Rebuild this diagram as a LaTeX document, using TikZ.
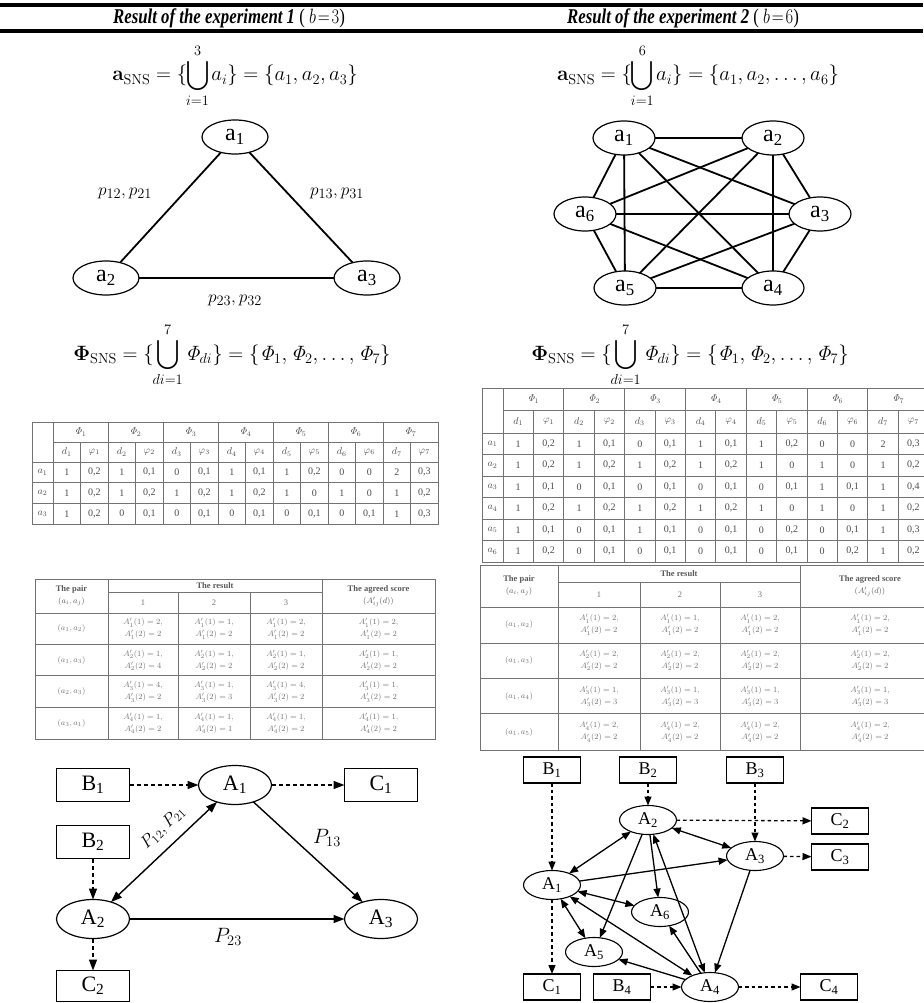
\documentclass[tikz,border=0pt]{standalone}
\usepackage[no-math]{fontspec}
\setmainfont{Liberation Serif}
\usepackage{amsmath}
\usetikzlibrary{arrows.meta,shapes.geometric,calc}
\newcommand{\fs}[1]{\fontsize{#1}{#1}\selectfont}
\newcommand{\ac}[3]{$A'_{#1}(1)=#2,$\\$A'_{#1}(2)=#3$}
\begin{document}
\begin{tikzpicture}[x=1pt,y=-1pt,
  every node/.style={inner sep=0pt,outer sep=0pt},
  topel/.style={draw,ellipse,line width=1.2pt,minimum width=66pt,minimum height=34pt,font=\fs{24}},
  topedge/.style={line width=1.8pt},
  botel/.style={draw,ellipse,line width=1.2pt,minimum width=73pt,minimum height=39pt,font=\fs{22}},
  botbox/.style={draw,rectangle,line width=1.2pt,minimum width=73pt,minimum height=33pt,font=\fs{22}},
  smel/.style={draw,ellipse,line width=1.1pt,minimum width=57pt,minimum height=29pt,font=\fs{18}},
  smbox/.style={draw,rectangle,line width=1.1pt,minimum width=57pt,minimum height=26pt,font=\fs{18}},
  tipA/.tip={Triangle[length=11pt,width=8pt]},
  tipB/.tip={Triangle[length=9pt,width=7pt]},
  solidarr/.style={line width=1.4pt,-tipA},
  dblarr/.style={line width=1.4pt,tipA-tipA},
  dasharr/.style={line width=1.4pt,dash pattern=on 4pt off 3pt,-tipA},
  ssolid/.style={line width=1.3pt,-tipB},
  sdbl/.style={line width=1.3pt,tipB-tipB},
  sdash/.style={line width=1.3pt,dash pattern=on 3.5pt off 3pt,-tipB},
  tabline/.style={draw=black!55,line width=0.9pt},
  tabtxt/.style={text=black!70,font=\fs{10}},
  lowtxt/.style={text=black!55,font=\fontsize{8.5}{12}\selectfont,align=center},
  lowhead/.style={text=black!65,font=\fontsize{8.5}{12}\selectfont\bfseries,align=center},
  header/.style={font=\fs{21}},
  formula/.style={font=\fs{22},anchor=base}
]
\useasboundingbox (0,0) rectangle (923,1003);
\fill[white] (0,0) rectangle (923,1003);
% rules
\draw[line width=4pt] (0,5) -- (923,5);
\draw[line width=3.5pt] (0,31) -- (923,31);
\node[header] (h1) at (229,18.5) {\scalebox{0.8}[1]{\textbf{\textit{Result of the experiment 1}} ( $b\!=\!3$)}};
\node[header] (h2) at (683,18.5) {\scalebox{0.8}[1]{\textbf{\textit{Result of the experiment 2}} ( $b\!=\!6$)}};
% formulas a
\node[formula] (fa1) at (235,81) {$\mathbf{a}_{\mathrm{SNS}}=\{\mkern-1mu\displaystyle\bigcup_{i=1}^{3}\mkern-1mu a_i\}=\left\{a_1,a_2,a_3\right\}$};
\node[formula] (fa2) at (698,81) {$\mathbf{a}_{\mathrm{SNS}}=\{\mkern-1mu\displaystyle\bigcup_{i=1}^{6}\mkern-1mu a_i\}=\left\{a_1,a_2,\ldots,a_6\right\}$};
% top-left triangle
\node[topel] (ta1) at (235,137) {a\textsubscript{1}};
\node[topel] (ta2) at (106,278) {a\textsubscript{2}};
\node[topel] (ta3) at (367,278) {a\textsubscript{3}};
\draw[topedge] (ta1) -- (ta2);
\draw[topedge] (ta1) -- (ta3);
\draw[topedge] (ta2) -- (ta3);
\node[font=\fs{19}] (l12) at (125,193) {$p_{12},p_{21}$};
\node[font=\fs{19}] (l13) at (337,193) {$p_{13},p_{31}$};
\node[font=\fs{19}] (l23) at (235,300) {$p_{23},p_{32}$};
% top-right K6
\node[topel,minimum width=62pt] (b1) at (624,138) {a\textsubscript{1}};
\node[topel,minimum width=62pt] (b2) at (773,138) {a\textsubscript{2}};
\node[topel,minimum width=62pt] (b6) at (585,214) {a\textsubscript{6}};
\node[topel,minimum width=62pt] (b3) at (820,214) {a\textsubscript{3}};
\node[topel,minimum width=62pt] (b5) at (625,288) {a\textsubscript{5}};
\node[topel,minimum width=62pt] (b4) at (773,288) {a\textsubscript{4}};
\foreach \u/\v in {b1/b2,b1/b3,b1/b4,b1/b5,b1/b6,b2/b3,b2/b4,b2/b5,b2/b6,b3/b4,b3/b5,b3/b6,b4/b5,b4/b6,b5/b6}
  \draw[topedge] (\u) -- (\v);
% Phi formulas
\node[formula] (fp1) at (232,360) {$\mathbf{\Phi}_{\mathrm{SNS}}=\{\mkern-1mu\displaystyle\bigcup_{di=1}^{7}\mkern-1mu\mathit{\Phi}_{di}\}=\left\{\mathit{\Phi}_1,\mathit{\Phi}_2,\ldots,\mathit{\Phi}_7\right\}$};
\node[formula] (fp2) at (690,360) {$\mathbf{\Phi}_{\mathrm{SNS}}=\{\mkern-1mu\displaystyle\bigcup_{di=1}^{7}\mkern-1mu\mathit{\Phi}_{di}\}=\left\{\mathit{\Phi}_1,\mathit{\Phi}_2,\ldots,\mathit{\Phi}_7\right\}$};
% ---------- left Phi table
\draw[tabline] (32,422) rectangle (438,524);
\foreach \yy in {462,482.5,503} \draw[tabline] (32,\yy) -- (438,\yy);
\draw[tabline] (53,442) -- (438,442);
\draw[tabline] (53,422) -- (53,524);
\foreach \k in {1,...,6} \draw[tabline] ({53+2*\k*27.5},422) -- ({53+2*\k*27.5},524);
\foreach \k in {0,...,6} \draw[tabline] ({53+(2*\k+1)*27.5},442) -- ({53+(2*\k+1)*27.5},524);
\foreach \k in {1,...,7} {
  \node[tabtxt] (lph\k) at ({53+(2*\k-1)*27.5},432) {$\mathit{\Phi}_{\k}$};
  \node[tabtxt] (lpd\k) at ({53+(2*\k-1.5)*27.5},452) {$d_{\k}$};
  \node[tabtxt] (lpf\k) at ({53+(2*\k-0.5)*27.5},452) {$\varphi_{\k}$};
}
\foreach \rowvals [count=\r] in {
  {1,{0,2},1,{0,1},0,{0,1},1,{0,1},1,{0,2},0,0,2,{0,3}},
  {1,{0,2},1,{0,2},1,{0,2},1,{0,2},1,0,1,0,1,{0,2}},
  {1,{0,2},0,{0,1},0,{0,1},0,{0,1},0,{0,1},0,{0,1},1,{0,3}}} {
  \node[tabtxt] (lra\r) at (42.5,{462+(\r-1)*20.7+10.3}) {$a_{\r}$};
  \foreach \v [count=\c] in \rowvals
    \node[tabtxt] (lc\r-\c) at ({53+(\c-0.5)*27.5},{462+(\r-1)*20.7+10.3}) {\v};
}
% ---------- right Phi table
\def\rw{30.4}
\draw[tabline] (482,388) -- (940,388);
\draw[tabline] (482,562) -- (940,562);
\draw[tabline] (482,388) -- (482,562);
\foreach \r in {0,...,5} \draw[tabline] (482,{433+\r*21.5}) -- (940,{433+\r*21.5});
\draw[tabline] (503,410) -- (940,410);
\draw[tabline] (503,388) -- (503,562);
\foreach \k in {1,...,6} \draw[tabline] ({503+2*\k*\rw},388) -- ({503+2*\k*\rw},562);
\foreach \k in {0,...,6} \draw[tabline] ({503+(2*\k+1)*\rw},410) -- ({503+(2*\k+1)*\rw},562);
\foreach \k in {1,...,7} {
  \node[tabtxt] (rph\k) at ({503+(2*\k-1)*\rw},399) {$\mathit{\Phi}_{\k}$};
  \node[tabtxt] (rpd\k) at ({503+(2*\k-1.5)*\rw},421.5) {$d_{\k}$};
  \node[tabtxt] (rpf\k) at ({503+(2*\k-0.5)*\rw},421.5) {$\varphi_{\k}$};
}
\foreach \rowvals [count=\r] in {
  {1,{0,2},1,{0,1},0,{0,1},1,{0,1},1,{0,2},0,0,2,{0,3}},
  {1,{0,2},1,{0,2},1,{0,2},1,{0,2},1,0,1,0,1,{0,2}},
  {1,{0,1},0,{0,1},0,{0,1},0,{0,1},0,{0,1},1,{0,1},1,{0,4}},
  {1,{0,2},1,{0,2},1,{0,2},1,{0,2},1,0,1,0,1,{0,2}},
  {1,{0,1},0,{0,1},1,{0,1},0,{0,1},0,{0,2},0,{0,1},1,{0,3}},
  {1,{0,2},0,{0,1},0,{0,1},0,{0,1},0,{0,1},0,{0,2},1,{0,2}}} {
  \node[tabtxt] (rra\r) at (492.5,{433+(\r-0.5)*21.5}) {$a_{\r}$};
  \foreach \v [count=\c] in \rowvals
    \node[tabtxt] (rc\r-\c) at ({503+(\c-0.5)*\rw},{433+(\r-0.5)*21.5}) {\v};
}
% ---------- left lower table
\draw[tabline] (35,579) rectangle (435,739);
\draw[tabline] (108,592) -- (322,592);
\foreach \yy in {613,644,675,707} \draw[tabline] (35,\yy) -- (435,\yy);
\draw[tabline] (108,579) -- (108,739);
\draw[tabline] (322,579) -- (322,739);
\draw[tabline] (178,592) -- (178,739);
\draw[tabline] (250,592) -- (250,739);
\node[lowhead] (lp1) at (71.5,596) {The pair\\$(a_i,a_j)$};
\node[lowhead] (lr1) at (215,585.5) {The result};
\node[lowtxt] (ln1) at (143,602.5) {1};
\node[lowtxt] (ln2) at (214,602.5) {2};
\node[lowtxt] (ln3) at (286,602.5) {3};
\node[lowhead] (ls1) at (378.5,596) {The agreed score\\$(A'_{ij}(d))$};
\foreach \lab/\ca/\cb/\cc/\cd [count=\r] in {
  {$(a_1,a_2)$}/{\ac{1}{2}{2}}/{\ac{1}{1}{2}}/{\ac{1}{2}{2}}/{\ac{1}{2}{2}},
  {$(a_1,a_3)$}/{\ac{2}{1}{4}}/{\ac{2}{1}{2}}/{\ac{2}{1}{2}}/{\ac{2}{1}{2}},
  {$(a_2,a_3)$}/{\ac{3}{4}{2}}/{\ac{3}{1}{3}}/{\ac{3}{4}{2}}/{\ac{3}{1}{2}},
  {$(a_3,a_1)$}/{\ac{4}{1}{2}}/{\ac{4}{1}{1}}/{\ac{4}{1}{2}}/{\ac{4}{1}{2}}} {
  \node[lowtxt] (lq\r-0) at (71.5,{613+(\r-0.5)*31.5}) {\lab};
  \node[lowtxt] (lq\r-1) at (143,{613+(\r-0.5)*31.5}) {\ca};
  \node[lowtxt] (lq\r-2) at (214,{613+(\r-0.5)*31.5}) {\cb};
  \node[lowtxt] (lq\r-3) at (286,{613+(\r-0.5)*31.5}) {\cc};
  \node[lowtxt] (lq\r-4) at (378.5,{613+(\r-0.5)*31.5}) {\cd};
}
% ---------- right lower table
\draw[tabline] (480,565) -- (940,565);
\draw[tabline] (480,750) -- (940,750);
\draw[tabline] (480,565) -- (480,750);
\draw[tabline] (558,582) -- (800,582);
\foreach \yy in {607,643,678,713} \draw[tabline] (480,\yy) -- (940,\yy);
\draw[tabline] (558,565) -- (558,750);
\draw[tabline] (800,565) -- (800,750);
\draw[tabline] (640,582) -- (640,750);
\draw[tabline] (720,582) -- (720,750);
\node[lowhead] (rp1) at (519,586) {The pair\\$(a_i,a_j)$};
\node[lowhead] (rr1) at (679,573.5) {The result};
\node[lowtxt] (rn1) at (599,594.5) {1};
\node[lowtxt] (rn2) at (680,594.5) {2};
\node[lowtxt] (rn3) at (760,594.5) {3};
\node[lowhead] (rs1) at (870,586) {The agreed score\\$(A'_{ij}(d))$};
\foreach \lab/\ca/\cb/\cc/\cd [count=\r] in {
  {$(a_1,a_2)$}/{\ac{1}{2}{2}}/{\ac{1}{1}{2}}/{\ac{1}{2}{2}}/{\ac{1}{2}{2}},
  {$(a_1,a_3)$}/{\ac{2}{2}{2}}/{\ac{2}{2}{2}}/{\ac{2}{2}{2}}/{\ac{2}{2}{2}},
  {$(a_1,a_4)$}/{\ac{3}{1}{3}}/{\ac{3}{1}{3}}/{\ac{3}{1}{3}}/{\ac{3}{1}{3}},
  {$(a_1,a_5)$}/{\ac{4}{2}{2}}/{\ac{4}{2}{2}}/{\ac{4}{2}{2}}/{\ac{4}{2}{2}}} {
  \node[lowtxt] (rq\r-0) at (519,{607+(\r-0.5)*35.75}) {\lab};
  \node[lowtxt] (rq\r-1) at (599,{607+(\r-0.5)*35.75}) {\ca};
  \node[lowtxt] (rq\r-2) at (680,{607+(\r-0.5)*35.75}) {\cb};
  \node[lowtxt] (rq\r-3) at (760,{607+(\r-0.5)*35.75}) {\cc};
  \node[lowtxt] (rq\r-4) at (870,{607+(\r-0.5)*35.75}) {\cd};
}
% ---------- bottom-left graph
\node[botbox] (LB1) at (93,785) {B\textsubscript{1}};
\node[botel] (LA1) at (235,785) {A\textsubscript{1}};
\node[botbox] (LC1) at (381,785) {C\textsubscript{1}};
\node[botbox] (LB2) at (93,842) {B\textsubscript{2}};
\node[botel] (LA2) at (93,919) {A\textsubscript{2}};
\node[botel] (LA3) at (381,919) {A\textsubscript{3}};
\node[botbox,minimum height=31pt] (LC2) at (93,986) {C\textsubscript{2}};
\draw[dasharr] (LB1) -- (LA1);
\draw[dasharr] (LA1) -- (LC1);
\draw[dasharr] (LB2) -- (LA2);
\draw[dasharr] (LA2) -- (LC2);
\draw[dblarr] (LA2) -- (LA1);
\draw[solidarr] (LA1) -- (LA3);
\draw[solidarr] (LA2) -- (LA3);
\node[font=\fs{18},rotate=44] (LP12) at (163,828) {$P_{12},P_{21}$};
\node[font=\fs{22}] (LP13) at (327,838) {$P_{13}$};
\node[font=\fs{22}] (LP23) at (228,937) {$P_{23}$};
% ---------- bottom-right graph
\node[smbox] (RB1) at (552,770) {B\textsubscript{1}};
\node[smbox] (RB2) at (648,770) {B\textsubscript{2}};
\node[smbox] (RB3) at (755,770) {B\textsubscript{3}};
\node[smel] (RA2) at (648,820) {A\textsubscript{2}};
\node[smbox] (RC2) at (840,821) {C\textsubscript{2}};
\node[smel] (RA3) at (755,856) {A\textsubscript{3}};
\node[smbox] (RC3) at (840,857) {C\textsubscript{3}};
\node[smel] (RA1) at (552,885) {A\textsubscript{1}};
\node[smel] (RA6) at (660,912) {A\textsubscript{6}};
\node[smel] (RA5) at (594,952) {A\textsubscript{5}};
\node[smel] (RA4) at (710,987) {A\textsubscript{4}};
\node[smbox] (RC1) at (552,987) {C\textsubscript{1}};
\node[smbox] (RB4) at (622,987) {B\textsubscript{4}};
\node[smbox] (RC4) at (829,987) {C\textsubscript{4}};
\draw[sdash] (RB1) -- (RA1);
\draw[sdash] (RB2) -- (RA2);
\draw[sdash] (RB3) -- (RA3);
\draw[sdash] (RA2) -- (RC2);
\draw[sdash] (RA3) -- (RC3);
\draw[sdash] (RA1) -- (RC1);
\draw[sdash] (RB4) -- (RA4);
\draw[sdash] (RA4) -- (RC4);
\draw[sdbl] (RA1) -- (RA2);
\draw[sdbl] (RA2) -- (RA3);
\draw[ssolid] (RA1) -- (RA3);
\draw[ssolid] (RA2) -- (RA5);
\draw[ssolid] (RA2) -- (RA6);
\draw[sdbl] (RA2) -- (RA4);
\draw[ssolid] (RA3) -- (RA4);
\draw[sdbl] (RA1) -- (RA6);
\draw[sdbl] (RA1) -- (RA5);
\draw[sdbl] (RA1) -- (RA4);
\draw[ssolid] (RA4) -- (RA6);
\draw[ssolid] (RA4) -- (RA5);
\end{tikzpicture}
\end{document}
